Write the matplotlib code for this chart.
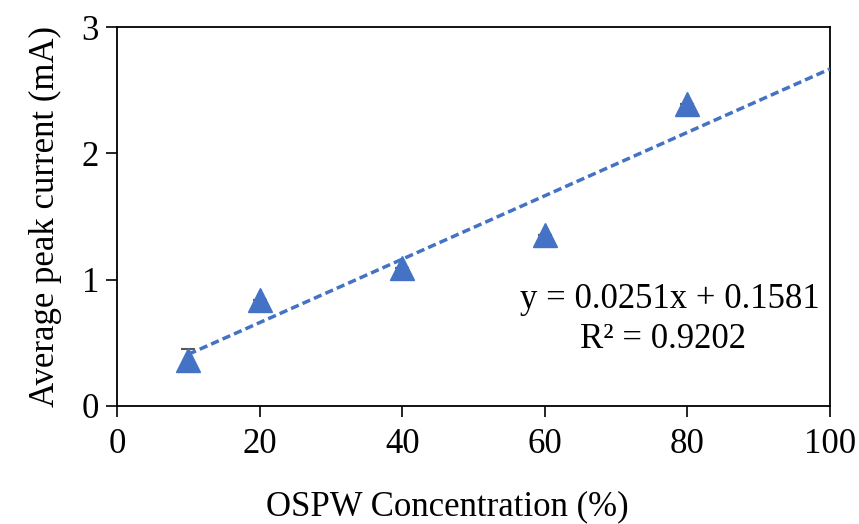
import matplotlib
matplotlib.use("Agg")
import matplotlib.pyplot as plt
import numpy as np

conc = [10, 20, 40, 60, 80]
current = [0.365, 0.84, 1.09, 1.35, 2.39]
err = [0.085, 0.0, 0.0, 0.0, 0.0]
slope, intercept = 0.0251, 0.1581
r2 = 0.9202
fit_x = [10, 100]

plt.rcParams['font.family'] = ['Liberation Serif', 'DejaVu Serif']
fig = plt.figure(figsize=(8.59, 5.24), dpi=100)
ax = fig.add_axes([117/859, 1-406/524, (830-117)/859, (406-27)/524])

blue = '#4472C4'
ax.errorbar(conc, current, yerr=err, fmt='none', ecolor='#595959', elinewidth=1.2, capsize=5, capthick=1.5, zorder=2)
fx = np.array(fit_x)
ax.plot(fx, slope*fx + intercept, color=blue, lw=2.5, ls=(0, (2.4, 1.2)), zorder=3)
ax.plot(conc, current, ls='none', marker='^', ms=17.5, color=blue, zorder=4)

ax.set_xlim(0, 100)
ax.set_ylim(0, 3)
ax.set_xticks([0, 20, 40, 60, 80, 100])
ax.set_yticks([0, 1, 2, 3])
ax.tick_params(direction='out', length=8, width=1.2, labelsize=25, pad=5, colors='black')
ax.tick_params(axis='x', pad=8)
for s in ax.spines.values():
    s.set_linewidth(1.3)
    s.set_color('black')

ax.set_xlabel('OSPW Concentration (%)', fontsize=25)
ax.xaxis.set_label_coords((447-117)/(830-117), -(507-406)/(406-27))
ax.xaxis.label.set_va('center')
ax.set_ylabel('Average peak current (mA)', fontsize=25, labelpad=14)

ax.text(670/859, 1-300/524, f'y = {slope}x + {intercept}', transform=fig.transFigure, fontsize=25, ha='center', va='center')
ax.text(663/859, 1-340/524, f'R² = {r2}', transform=fig.transFigure, fontsize=25, ha='center', va='center')

fig.savefig('out.png', dpi=100)
